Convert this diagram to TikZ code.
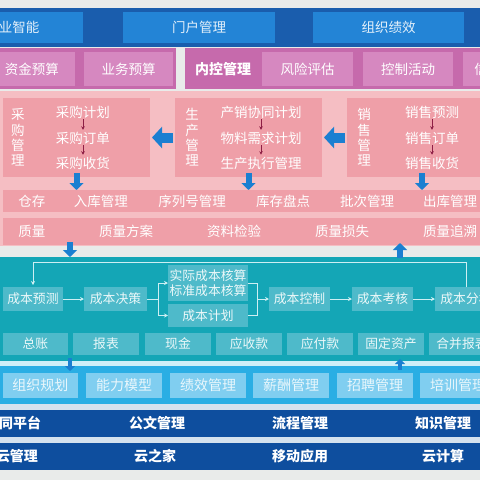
\documentclass[tikz,border=0pt]{standalone}
\usepackage{fontspec}
\setmainfont{Noto Sans CJK SC}
\usetikzlibrary{arrows.meta}
\definecolor{pagegray}{HTML}{E9EBEA}
\definecolor{bandblue}{HTML}{1A5DAD}
\definecolor{cellblue}{HTML}{2384D6}
\definecolor{magbg}{HTML}{C66AAC}
\definecolor{magcell}{HTML}{D688C0}
\definecolor{pinkbg}{HTML}{F5BEC3}
\definecolor{pinkbox}{HTML}{EF9FA8}
\definecolor{arrowblue}{HTML}{1B7FD1}
\definecolor{smallred}{HTML}{8E1F45}
\definecolor{tealbg}{HTML}{14A6B6}
\definecolor{tealcell}{HTML}{4EBACA}
\definecolor{tline}{HTML}{CDEFF3}
\definecolor{sepcyan}{HTML}{CFEFF8}
\definecolor{hrbg}{HTML}{2AAEE4}
\definecolor{hrcell}{HTML}{80CEF0}
\definecolor{navy}{HTML}{0E4E9E}
\definecolor{navysep}{HTML}{D5E2EE}
\begin{document}
\begin{tikzpicture}[x=1pt,y=-1pt,
  every node/.style={inner sep=0pt,outer sep=0pt},
  blk/.style={rectangle,draw=none},
  txt/.style={text=white,font=\fontsize{13.5}{15.5}\selectfont},
  ttxt/.style={text=white!92!tealbg,font=\fontsize{12.8}{14.5}\selectfont},
  htxt/.style={text=white!90!hrbg,font=\fontsize{14}{16}\selectfont},
  btxt/.style={text=white,font=\fontsize{14}{16}\selectfont\bfseries},
  fat/.style={draw=arrowblue,line width=6pt,-{Triangle[width=14pt,length=7pt]}},
  bigfat/.style={draw=arrowblue,line width=10pt,-{Triangle[width=21pt,length=10pt]}},
  smallfat/.style={draw=arrowblue,line width=4pt,-{Triangle[width=10pt,length=5pt]}},
  redarr/.style={draw=smallred,line width=0.8pt,-{Stealth[length=3.5pt,width=3.5pt]},shorten <=1pt,shorten >=2pt},
  tarr/.style={draw=tline,line width=1pt,-{Stealth[length=4pt,width=4pt]}},
  tln/.style={draw=tline,line width=1pt}]
\useasboundingbox (0,0) rectangle (480,480);
\clip (0,0) rectangle (480,480);
\fill[pagegray] (0,0) rectangle (480,480);

% ---------- row 1 ----------
\node[blk,fill=bandblue,minimum width=500pt,minimum height=39pt] (band1) at (240,27.5) {};
\node[blk,fill=cellblue,minimum width=128pt,minimum height=31pt,txt,text=white!88!cellblue] (c11) at (19,27.5) {业智能};
\node[blk,fill=cellblue,minimum width=152pt,minimum height=31pt,txt,text=white!88!cellblue] (c12) at (199,27.5) {门户管理};
\node[blk,fill=cellblue,minimum width=151pt,minimum height=31pt,txt,text=white!88!cellblue] (c13) at (388.5,27.5) {组织绩效};

% ---------- row 2 ----------
\node[blk,fill=magbg,minimum width=181pt,minimum height=41pt] (grpL) at (85.5,68.5) {};
\node[blk,fill=magcell,minimum width=86pt,minimum height=34pt,txt] (c21) at (32,69) {资金预算};
\node[blk,fill=magcell,minimum width=89pt,minimum height=34pt,txt] (c22) at (128.5,69) {业务预算};
\node[blk,fill=magbg,minimum width=315pt,minimum height=41pt] (grpR) at (342.5,68.5) {};
\node[btxt] (nk) at (223,69) {内控管理};
\node[blk,fill=magcell,minimum width=91pt,minimum height=34pt,txt] (c23) at (307.5,69) {风险评估};
\node[blk,fill=magcell,minimum width=90pt,minimum height=34pt,txt] (c24) at (408,69) {控制活动};
\node[blk,fill=magcell,minimum width=90pt,minimum height=34pt,txt] (c25) at (508,69) {信息与沟通};

% ---------- pink section ----------
\node[blk,fill=pinkbg,minimum width=500pt,minimum height=155pt] (pinkbg) at (240,168.5) {};
\node[blk,fill=pinkbox,minimum width=147pt,minimum height=79pt] (cg) at (76.5,137.5) {};
\node[blk,fill=pinkbox,minimum width=147pt,minimum height=79pt] (sc) at (248.5,137.5) {};
\node[blk,fill=pinkbox,minimum width=150pt,minimum height=79pt] (xs) at (422,137.5) {};
\node[txt,align=center,font=\fontsize{13.5}{15.3}\selectfont] (cgv) at (18,137.5) {采\\购\\管\\理};
\node[txt,align=center,font=\fontsize{13.5}{15.3}\selectfont] (scv) at (192,137.5) {生\\产\\管\\理};
\node[txt,align=center,font=\fontsize{13.5}{15.3}\selectfont] (xsv) at (364,137.5) {销\\售\\管\\理};
\node[txt] (cg1) at (83,112) {采购计划};
\node[txt] (cg2) at (83,138) {采购订单};
\node[txt] (cg3) at (83,163) {采购收货};
\node[txt] (sc1) at (261,112) {产销协同计划};
\node[txt] (sc2) at (261,138) {物料需求计划};
\node[txt] (sc3) at (261,163) {生产执行管理};
\node[txt] (xs1) at (432,112) {销售预测};
\node[txt] (xs2) at (432,138) {销售订单};
\node[txt] (xs3) at (432,163) {销售收货};
\draw[redarr] (cg1) -- (cg2);
\draw[redarr] (cg2) -- (cg3);
\draw[redarr] (sc1) -- (sc2);
\draw[redarr] (sc2) -- (sc3);
\draw[redarr] (xs1) -- (xs2);
\draw[redarr] (xs2) -- (xs3);
\draw[bigfat,shorten <=2pt,shorten >=2pt] (sc.west) -- (cg.east);
\draw[bigfat,shorten <=2pt,shorten >=2pt] (xs.west) -- (sc.east);

\node[blk,fill=pinkbox,minimum width=494pt,minimum height=22pt] (ck) at (250,201) {};
\node[txt] (t1) at (32,201) {仓存};
\node[txt] (t2) at (101,201) {入库管理};
\node[txt] (t3) at (192,201) {序列号管理};
\node[txt] (t4) at (283,201) {库存盘点};
\node[txt] (t5) at (367,201) {批次管理};
\node[txt] (t6) at (450,201) {出库管理};
\draw[fat,shorten <=-4pt] (cg.south) -- (cg.south |- ck.north);
\draw[fat,shorten <=-4pt] (sc.south) -- (sc.south |- ck.north);
\draw[fat,shorten <=-4pt] (xs.south) -- (xs.south |- ck.north);

\node[blk,fill=pinkbox,minimum width=494pt,minimum height=27pt] (zl) at (250,231.5) {};
\node[txt] (q1) at (32,231.5) {质量};
\node[txt] (q2) at (126,231.5) {质量方案};
\node[txt] (q3) at (234,231.5) {资料检验};
\node[txt] (q4) at (342,231.5) {质量损失};
\node[txt] (q5) at (450,231.5) {质量追溯};

% ---------- teal section ----------
\coordinate (ax1) at (70,0);
\coordinate (ax2) at (400,0);
\node[blk,fill=tealbg,minimum width=500pt,minimum height=104pt] (teal) at (240,309) {};
\draw[fat,shorten <=-3pt] (zl.south -| ax1) -- (teal.north -| ax1);
\draw[fat,shorten <=-1pt,shorten >=-2pt] (teal.north -| ax2) -- (zl.south -| ax2);

\node[blk,fill=tealcell,minimum width=60pt,minimum height=24pt,ttxt] (yc) at (33,299) {成本预测};
\node[blk,fill=tealcell,minimum width=63pt,minimum height=24pt,ttxt] (jc) at (115.5,299) {成本决策};
\node[blk,fill=tealcell,minimum width=80pt,minimum height=36pt,ttxt,align=center,font=\fontsize{12.8}{15}\selectfont] (hs) at (208,283) {实际成本核算\\标准成本核算};
\node[blk,fill=tealcell,minimum width=80pt,minimum height=23pt,ttxt] (jh) at (208,315.5) {成本计划};
\node[blk,fill=tealcell,minimum width=61pt,minimum height=24pt,ttxt] (kz) at (299.5,299) {成本控制};
\node[blk,fill=tealcell,minimum width=61pt,minimum height=24pt,ttxt] (kh) at (382.5,299) {成本考核};
\node[blk,fill=tealcell,minimum width=62pt,minimum height=24pt,ttxt] (fx) at (466,299) {成本分析};
\draw[tarr] (fx.north) -- ++(0,-25) -| ([yshift=2pt]yc.north);
\draw[tarr] (yc.east) -- (jc.west);
\coordinate (fk) at (158,299);
\coordinate (jn) at (257,299);
\draw[tln] (jc.east) -- (fk);
\draw[tarr] (fk) |- (hs.west);
\draw[tarr] (fk) |- (jh.west);
\draw[tln] (hs.east) -| (jn);
\draw[tln] (jh.east) -| (jn);
\draw[tarr] (jn) -- (kz.west);
\draw[tarr] (kz.east) -- (kh.west);
\draw[tarr] (kh.east) -- (fx.west);

\node[blk,fill=tealcell,minimum width=65pt,minimum height=22pt,ttxt] (b1) at (35.5,344) {总账};
\node[blk,fill=tealcell,minimum width=66pt,minimum height=22pt,ttxt] (b2) at (106,344) {报表};
\node[blk,fill=tealcell,minimum width=66pt,minimum height=22pt,ttxt] (b3) at (178,344) {现金};
\node[blk,fill=tealcell,minimum width=66pt,minimum height=22pt,ttxt] (b4) at (249,344) {应收款};
\node[blk,fill=tealcell,minimum width=66pt,minimum height=22pt,ttxt] (b5) at (320,344) {应付款};
\node[blk,fill=tealcell,minimum width=66pt,minimum height=22pt,ttxt] (b6) at (391,344) {固定资产};
\node[blk,fill=tealcell,minimum width=66pt,minimum height=22pt,ttxt] (b7) at (462,344) {合并报表};

% ---------- HR section ----------
\node[blk,fill=hrbg,minimum width=500pt,minimum height=38pt] (hr) at (240,385) {};
\fill[sepcyan] (0,361) rectangle (480,366);
\draw[smallfat,shorten <=-3pt,shorten >=-5pt] (teal.south -| ax1) -- (hr.north -| ax1);
\draw[smallfat,shorten <=-4pt,shorten >=-2pt] (hr.north -| ax2) -- (teal.south -| ax2);
\node[blk,fill=hrcell,minimum width=75pt,minimum height=25pt,htxt] (h1) at (40.5,385.5) {组织规划};
\node[blk,fill=hrcell,minimum width=76pt,minimum height=25pt,htxt] (h2) at (124,385.5) {能力模型};
\node[blk,fill=hrcell,minimum width=76pt,minimum height=25pt,htxt] (h3) at (208,385.5) {绩效管理};
\node[blk,fill=hrcell,minimum width=76pt,minimum height=25pt,htxt] (h4) at (291,385.5) {薪酬管理};
\node[blk,fill=hrcell,minimum width=76pt,minimum height=25pt,htxt] (h5) at (375,385.5) {招聘管理};
\node[blk,fill=hrcell,minimum width=76pt,minimum height=25pt,htxt] (h6) at (458,385.5) {培训管理};

% ---------- navy rows ----------
\fill[navysep] (0,404) rectangle (480,410);
\node[blk,fill=navy,minimum width=500pt,minimum height=27pt] (d1) at (240,423.5) {};
\fill[navysep] (0,437) rectangle (480,443);
\node[blk,fill=navy,minimum width=500pt,minimum height=27pt] (d2) at (240,456.5) {};
\node[btxt] (e1) at (20,423.5) {同平台};
\node[btxt] (e2) at (157,423.5) {公文管理};
\node[btxt] (e3) at (300,423.5) {流程管理};
\node[btxt] (e4) at (443,423.5) {知识管理};
\node[btxt] (f1) at (17,456.5) {云管理};
\node[btxt] (f2) at (155,456.5) {云之家};
\node[btxt] (f3) at (300,456.5) {移动应用};
\node[btxt] (f4) at (443,456.5) {云计算};
\end{tikzpicture}
\end{document}
